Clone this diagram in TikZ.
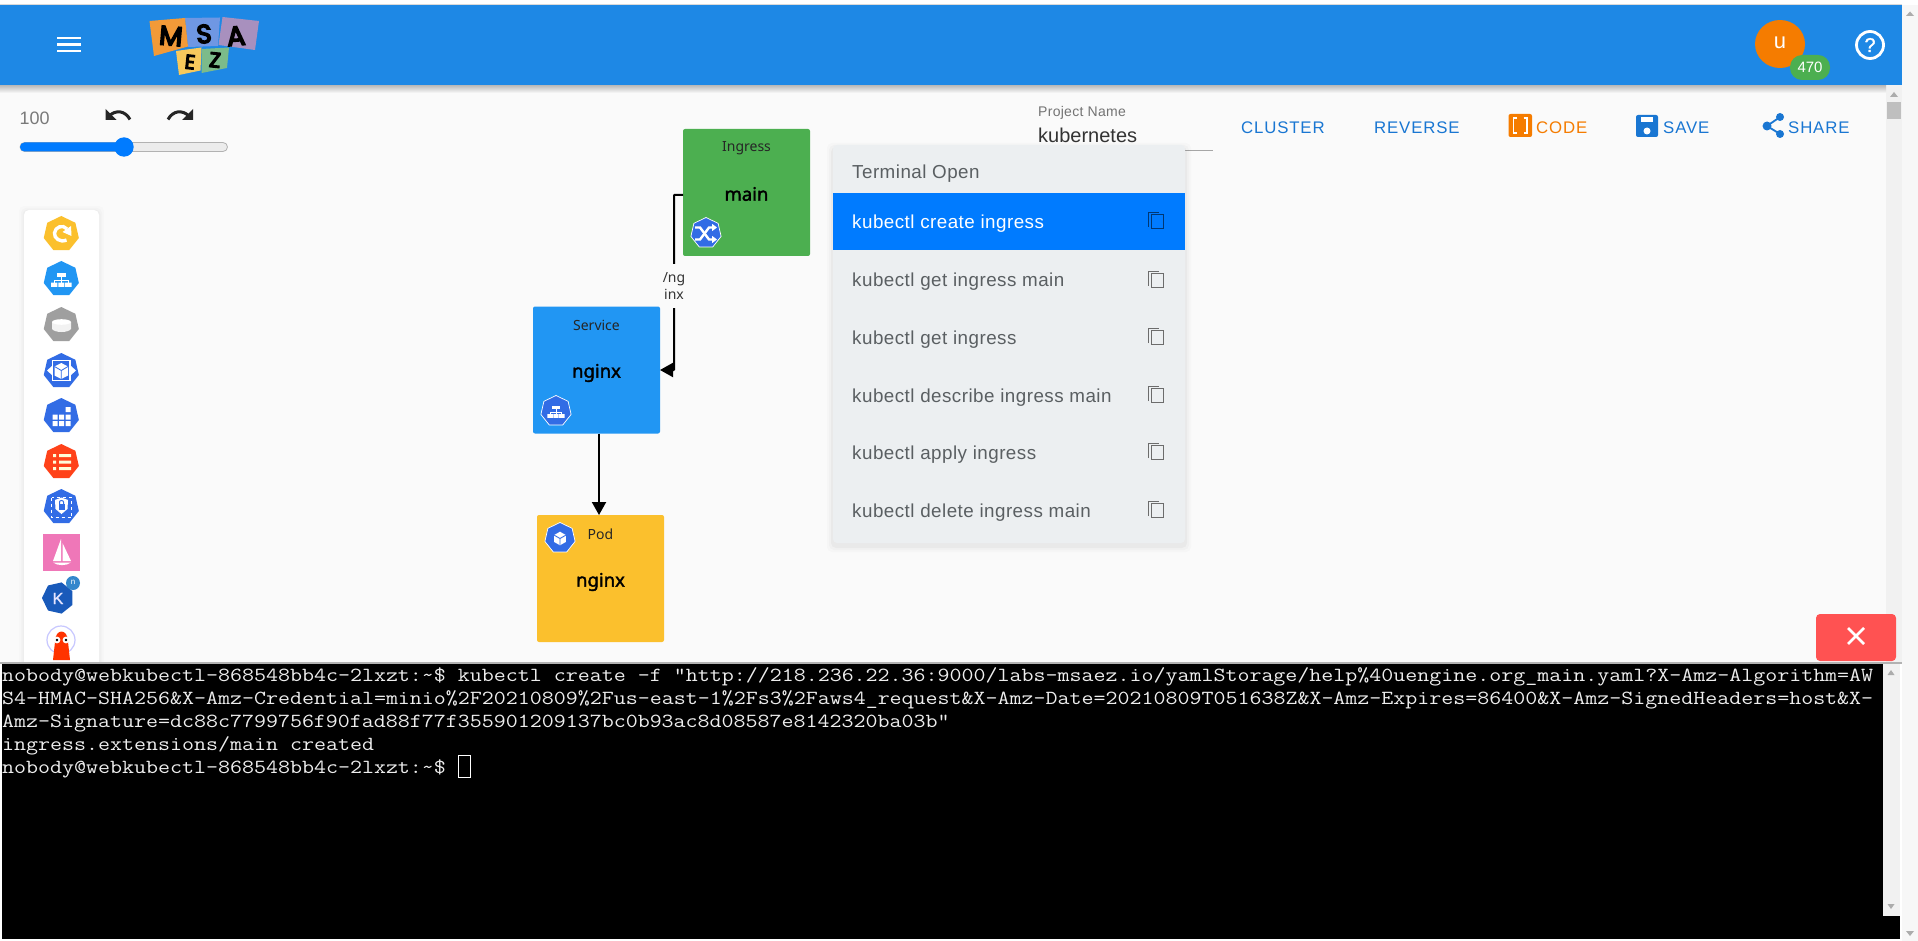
\documentclass[tikz,border=0pt]{standalone}
\usepackage{fontspec}
\setmainfont{Liberation Sans}
\newfontfamily\boxfont{Noto Sans}
\newfontfamily\boxbold[FakeBold=1.8]{Noto Sans}
\newfontfamily\termfont[FakeStretch=1.1645]{Latin Modern Mono}
\newfontfamily\btnfont[LetterSpace=5]{Liberation Sans}
\newfontfamily\menufont[LetterSpace=2.5]{Liberation Sans}
\newfontfamily\sansbold[FakeBold=1.5]{Liberation Sans}
\newfontfamily\logofont[FakeBold=6]{Poppins}
\usetikzlibrary{shapes.geometric,arrows.meta}
\definecolor{hdr}{HTML}{1E88E5}
\definecolor{canvasbg}{HTML}{FAFAFA}
\definecolor{sbar}{HTML}{F1F1F1}
\definecolor{primary}{HTML}{007BFF}
\definecolor{menubg}{HTML}{ECEFF1}
\definecolor{menutxt}{HTML}{5A5F62}
\definecolor{btnblue}{HTML}{1976D2}
\definecolor{btnorange}{HTML}{F57C00}
\definecolor{k8s}{HTML}{326CE5}
\definecolor{gyellow}{HTML}{FBC02D}
\definecolor{gblue}{HTML}{2196F3}
\definecolor{ggreen}{HTML}{4CAF50}
\definecolor{gred}{HTML}{FF5252}
\definecolor{sail}{HTML}{EF77B8}
\definecolor{logoM}{HTML}{F29A38}
\definecolor{logoS}{HTML}{6F97E3}
\definecolor{logoA}{HTML}{A890BE}
\definecolor{logoE}{HTML}{F7C95C}
\definecolor{logoZ}{HTML}{7CBB8A}
\tikzset{
  x=1pt,y=-1pt,
  hept/.style={regular polygon,regular polygon sides=7,inner sep=0pt,outer sep=0pt},
  kbox/.style={minimum width=127pt,minimum height=127pt,rounded corners=2pt,inner sep=0pt,outer sep=0pt},
  kindlabel/.style={font=\boxfont\fontsize{14}{16}\selectfont,inner sep=0pt,text=black!85},
  namelabel/.style={font=\boxbold\fontsize{18.5}{22}\selectfont,inner sep=0pt,text=black},
  edge/.style={draw=black,line width=2pt,-{Triangle[width=14pt,length=13pt]}},
  termline/.style={anchor=base west,inner sep=0pt,text=white!93!black,font=\termfont\fontsize{20}{23}\selectfont},
  menuitem/.style={anchor=base west,inner sep=0pt,text=menutxt,font=\menufont\fontsize{18.8}{22}\selectfont},
  topbtn/.style={anchor=base west,inner sep=0pt,font=\btnfont\fontsize{16.8}{20}\selectfont},
}
\newcommand\copyicon[2]{%
  \draw[#2,line width=1pt] (1148.7,#1+6) -- (1148.7,#1-8.5) -- (1158.5,#1-8.5);
  \draw[#2,line width=1pt] (1151.5,#1-6.5) rectangle (1163.5,#1+7.5);}
\newcommand\svcglyph{%
  \fill[white] (-5,-8) rectangle (5,-3.5);
  \draw[white,line width=1pt] (0,-3.5) -- (0,0) (-8,3) -- (-8,0) -- (8,0) -- (8,3) (0,0) -- (0,3);
  \fill[white] (-12,3) rectangle (-4.5,8) (-3.5,3) rectangle (3.5,8) (4.5,3) rectangle (12,8);}
\newcommand\cubeglyph{%
  \fill[white] (0,-8) -- (7,-4) -- (7,4) -- (0,8) -- (-7,4) -- (-7,-4) -- cycle;
  \draw[k8s,line width=.9pt] (-7,-4) -- (0,0) -- (7,-4) (0,0) -- (0,8);}
\begin{document}
\begin{tikzpicture}
\useasboundingbox (0,0) rectangle (1918,941);
% page and canvas
\fill[white] (0,0) rectangle (1918,941);
\fill[canvasbg] (0,85) rectangle (1886,662);
\fill[sbar] (1886,85) rectangle (1902,662);
\fill[sbar!60!white] (1902,5) rectangle (1918,941);
\fill[gray!30] (0,4) rectangle (1902,5);
% header
\shade[top color=black!28,bottom color=canvasbg] (0,85) rectangle (1886,93);
\fill[hdr] (0,5) rectangle (1902,85);
\draw[white,line width=2.4pt] (57,38) -- (81,38) (57,44.5) -- (81,44.5) (57,51) -- (81,51);
% logo
\fill[logoS] (185,18) -- (220,17.5) -- (218,46) -- (188,47) -- cycle;
\fill[logoM] (149.5,21) -- (185,18) -- (188,46.5) -- (154,56) -- cycle;
\fill[logoA] (222.5,17) -- (259,21) -- (255,50) -- (218.5,45) -- cycle;
\fill[logoE] (176,51) -- (201.5,47.5) -- (200.5,70.5) -- (179,75) -- cycle;
\fill[logoZ] (201.5,49) -- (229,47.5) -- (227,68) -- (201.5,73) -- cycle;
\node[inner sep=0pt,rotate=-5,font=\logofont\fontsize{27}{24}\selectfont] (letterM) at (171,36) {M};
\node[inner sep=0pt,rotate=3,font=\logofont\fontsize{26}{24}\selectfont] (letterS) at (204,34) {S};
\node[inner sep=0pt,rotate=5,font=\logofont\fontsize{27}{24}\selectfont] (letterA) at (236,36) {A};
\node[inner sep=0pt,rotate=-6,font=\logofont\fontsize{20}{20}\selectfont] (letterE) at (190,62) {E};
\node[inner sep=0pt,rotate=-6,font=\logofont\fontsize{21}{20}\selectfont] (letterZ) at (215,60) {Z};
% avatar
\fill[btnorange] (1780,44) ellipse [x radius=25pt,y radius=24pt];
\node[inner sep=0pt,text=white,font=\fontsize{22}{24}\selectfont] (avatar) at (1780,42.5) {u};
\fill[ggreen,rounded corners=12pt] (1790,55) rectangle (1830,80);
\node[inner sep=0pt,text=white,font=\fontsize{15}{16}\selectfont] (points) at (1810,67) {470};
\draw[white,line width=2.8pt] (1870,45) circle [radius=13.5pt];
\node[inner sep=0pt,text=white,font=\sansbold\fontsize{20}{20}\selectfont] (help) at (1870,45) {?};
\fill[gray!65] (1906,16) -- (1914,16) -- (1910,11.5) -- cycle;
% canvas scrollbar
\fill[gray!65] (1890,97) -- (1898,97) -- (1894,92) -- cycle;
\fill[gray!50] (1887,102) rectangle (1901,119);
% zoom controls
\node[anchor=base west,inner sep=0pt,text=gray!95!black,font=\fontsize{18}{20}\selectfont] (zoomval) at (19.5,125) {100};
\fill[black!85] (105.5,109) -- (105.5,120) -- (116.5,120) -- cycle;
\draw[black!85,line width=3pt] (130,119.5) .. controls (125,110.5) and (116,109.5) .. (109,116);
\fill[black!85] (193,109) -- (193,120) -- (182,120) -- cycle;
\draw[black!85,line width=3pt] (168,119.5) .. controls (173,110.5) and (182,109.5) .. (189,116);
\draw[gray!60,fill=gray!15,line width=.8pt,rounded corners=4.5pt] (20,142.5) rectangle (227.5,151.5);
\fill[primary,rounded corners=4.5pt] (20,142.5) rectangle (128,151.5);
\fill[primary] (124,147) circle [radius=9.7pt];
% palette panel
\foreach \o/\a in {5/.012,3/.016,1.5/.02}{\fill[black,opacity=\a,rounded corners=5pt] (24-\o,210-\o+1) rectangle (99+\o,670);}
\fill[white,rounded corners=5pt] (24,210) rectangle (99,670);
\node[hept,fill=gyellow,minimum size=36pt] (palRefresh) at (61.3,234) {};
\draw[white,line width=3.4pt] (66.5,240) .. controls (60,243) and (54,238) .. (54.5,233) .. controls (55,227) and (63,224) .. (67,229);
\fill[white] (71,226) -- (71.5,236) -- (62.5,232) -- cycle;
\node[hept,fill=gblue,minimum size=36pt] (palService) at (61.3,279) {};
\begin{scope}[shift={(61.3,280)},scale=.85]\svcglyph\end{scope}
\node[hept,fill=gray!75,minimum size=36pt] (palVolume) at (61.3,325) {};
\fill[white!90!gray] (52,322) -- (52,329) .. controls (55,333) and (68,333) .. (71,329) -- (71,322) -- cycle;
\fill[white] (61.5,322) ellipse [x radius=9.5pt,y radius=2.8pt];
\node[hept,fill=k8s,minimum size=36pt] (palDeploy) at (61.3,371) {};
\draw[white,line width=1.6pt] (52.5,360.5) rectangle (70,380.5);
\fill[white] (61.3,363) -- (68,366.5) -- (68,375.5) -- (61.3,379) -- (54.5,375.5) -- (54.5,366.5) -- cycle;
\draw[k8s,line width=.8pt] (54.5,366.5) -- (61.3,370.5) -- (68,366.5) (61.3,370.5) -- (61.3,379);
\fill[white] (47,370.5) -- (52,366) -- (52,375) -- cycle (76,370.5) -- (71,366) -- (71,375) -- cycle;
\node[hept,fill=k8s,minimum size=36pt] (palGrid) at (61.3,416) {};
\fill[white] (65.5,407) rectangle (70.5,412) (52.5,414.5) rectangle (57.5,419.5) (59,414.5) rectangle (64,419.5) (65.5,414.5) rectangle (70.5,419.5) (52.5,421) rectangle (57.5,426) (59,421) rectangle (64,426) (65.5,421) rectangle (70.5,426);
\node[hept,fill=red!65!orange!90!white,minimum size=36pt] (palConfig) at (61.3,462) {};
\fill[white!85!yellow] (53,454) rectangle (56,457) (59,454) rectangle (71,457) (53,460.5) rectangle (56,463.5) (59,460.5) rectangle (71,463.5) (53,467) rectangle (56,470) (59,467) rectangle (71,470);
\node[hept,fill=k8s,minimum size=36pt] (palSecret) at (61.3,507) {};
\draw[white,line width=1pt,dashed] (51.5,497.5) rectangle (71.5,517.5);
\fill[white] (61.5,497.5) -- (68,500) -- (67.5,509) -- (61.5,514) -- (55.5,509) -- (55,500) -- cycle;
\fill[k8s] (58.5,504) rectangle (64.5,510);
\draw[k8s,line width=1pt] (59.5,504) -- (59.5,502) .. controls (59.5,500) and (63.5,500) .. (63.5,502) -- (63.5,504);
\fill[sail] (43,534) rectangle (80,571);
\fill[white] (61,539) -- (61,561) -- (53,561) -- cycle;
\fill[white] (62.5,543) -- (71,561) -- (62.5,561) -- cycle;
\fill[white] (53,562.5) -- (71,562.5) .. controls (66,566) and (58,566) .. (53,562.5) -- cycle;
\node[hept,fill=blue!60!cyan!70!black!90,minimum size=32pt,rotate=90] (palKnative) at (58,598) {};
\node[inner sep=0pt,text=white!90!blue,font=\sansbold\fontsize{16}{18}\selectfont] (palK) at (58,598.5) {K};
\fill[blue!45!cyan!60!gray] (73,583) circle [radius=7pt];
\node[inner sep=0pt,text=white,font=\fontsize{8}{9}\selectfont] (palN) at (73,582.5) {n};
\draw[blue!22,line width=1.2pt] (61,640) circle [radius=14pt];
\fill[red!60!orange] (55,642) .. controls (55,628) and (68,628) .. (68,642) -- (70,660) -- (53,660) -- cycle;
\fill[white] (57,640) circle [radius=3.4pt] (66,640) circle [radius=3.4pt];
\fill[black] (57,640) circle [radius=1.4pt] (66,640) circle [radius=1.4pt];
% graph
\node[kbox,fill=ggreen] (ingress) at (746.5,192.5) {};
\node[kbox,fill=gblue] (service) at (596.5,370) {};
\node[kbox,fill=gyellow] (pod) at (600.5,578.5) {};
\node[kindlabel] (ingressKind) at (746.5,148) {Ingress};
\node[namelabel] (ingressName) at (746.5,194) {main};
\node[kindlabel] (serviceKind) at (596.5,325) {Service};
\node[namelabel] (serviceName) at (596.5,373) {nginx};
\node[kindlabel] (podKind) at (600.5,534) {Pod};
\node[namelabel] (podName) at (600.5,582) {nginx};
\node[hept,fill=k8s,draw=white,line width=.7pt,minimum size=31pt] (ingressIcon) at (706,233) {};
\begin{scope}[shift={(706,233.5)}]
\draw[white,line width=2.4pt,-{Triangle[width=7pt,length=5pt]}] (-11,-6) -- (-6,-6) -- (3,6) -- (11,6);
\draw[white,line width=2.4pt,-{Triangle[width=7pt,length=5pt]}] (-11,6) -- (-6,6) -- (3,-6) -- (11,-6);
\end{scope}
\node[hept,fill=k8s,draw=white,line width=.7pt,minimum size=31pt] (serviceIcon) at (556,411) {};
\begin{scope}[shift={(556,412)},scale=.72]\svcglyph\end{scope}
\node[hept,fill=k8s,draw=white,line width=.7pt,minimum size=31pt] (podIcon) at (560,538) {};
\begin{scope}[shift={(560,538.5)},scale=.85]\cubeglyph\end{scope}
\draw[edge,rounded corners=.5pt] ([yshift=-2.5pt]ingress.west) -| (674,370) -- (service.east);
\node[fill=canvasbg,inner sep=0pt,minimum width=26pt,minimum height=44pt,align=center,text=black!80,font=\boxfont\fontsize{14}{17}\selectfont] (edgeLabel) at (674,286) {/ng\\inx};
\draw[edge] ([xshift=2.5pt]service.south) -- ([xshift=-1.5pt]pod.north);
% project name
\node[anchor=base west,inner sep=0pt,text=gray!90!black,font=\btnfont\fontsize{14}{16}\selectfont] (projLabel) at (1038,116.5) {\addfontfeature{LetterSpace=2}Project Name};
\node[anchor=base west,inner sep=0pt,text=black!80,font=\fontsize{20}{22}\selectfont] (projName) at (1038,142.5) {kubernetes};
\draw[gray!70,line width=.8pt] (1038,150) -- (1213,150);
% toolbar
\node[topbtn,text=btnblue] (btnCluster) at (1241,133.5) {CLUSTER};
\node[topbtn,text=btnblue] (btnReverse) at (1374,133.5) {REVERSE};
\fill[btnorange,rounded corners=2pt] (1508.5,114) rectangle (1532,137);
\draw[white,line width=1.8pt] (1517,118) -- (1513.5,118) -- (1513.5,133) -- (1517,133) (1523.5,118) -- (1527,118) -- (1527,133) -- (1523.5,133);
\node[topbtn,text=btnorange] (btnCode) at (1536,133.5) {CODE};
\fill[btnblue,rounded corners=2pt] (1636,115) rectangle (1658,137);
\fill[white] (1640.5,117.5) rectangle (1652.5,122.5);
\fill[white] (1647,131) circle [radius=3.5pt];
\node[topbtn,text=btnblue] (btnSave) at (1663,133.5) {SAVE};
\draw[btnblue,line width=1.8pt] (1780,117) -- (1767,126) -- (1780,134);
\fill[btnblue] (1780,117) circle [radius=4pt] (1767,126) circle [radius=4.5pt] (1780,134) circle [radius=4pt];
\node[topbtn,text=btnblue] (btnShare) at (1788,133.5) {SHARE};
% menu
\foreach \o/\a in {6/.015,4/.02,2/.03}{\fill[black,opacity=\a,rounded corners=5pt] (833-\o,145-\o+4) rectangle (1185+\o,543+\o+3);}
\fill[menubg,rounded corners=4pt] (833,145) rectangle (1185,543);
\fill[primary] (833,193) rectangle (1185,250);
\node[menuitem] (menuHead) at (852,179) {Terminal Open};
\node[menuitem,text=white] (menuA) at (852,229) {kubectl create ingress};
\node[menuitem] (menuB) at (852,287) {kubectl get ingress main};
\node[menuitem] (menuC) at (852,344) {kubectl get ingress};
\node[menuitem] (menuD) at (852,402) {kubectl describe ingress main};
\node[menuitem] (menuE) at (852,459) {kubectl apply ingress};
\node[menuitem] (menuF) at (852,517) {kubectl delete ingress main};
\copyicon{221}{black!55!primary}
\copyicon{279.5}{gray!85!black}
\copyicon{337}{gray!85!black}
\copyicon{395}{gray!85!black}
\copyicon{452}{gray!85!black}
\copyicon{510}{gray!85!black}
% terminal
\fill[sbar] (1883,663) rectangle (1900,916);
\fill[gray!60] (0,662) rectangle (1902,663.5);
\fill[black] (2,663.5) rectangle (1883,939);
\fill[black] (1883,916) rectangle (1900,939);
\fill[gray!65] (1887.5,675) -- (1894.5,675) -- (1891,670) -- cycle;
\fill[gray!65] (1887.5,904) -- (1894.5,904) -- (1891,909) -- cycle;
\fill[gray!65] (1906,931) -- (1914,931) -- (1910,936) -- cycle;
\node[termline] (termA) at (2,681) {nobody@webkubectl-868548bb4c-2lxzt:\textasciitilde\$ kubectl create -f "http://218.236.22.36:9000/labs-msaez.io/yamlStorage/help\%40uengine.org\_main.yaml?X-Amz-Algorithm=AW};
\node[termline] (termB) at (2,704) {S4-HMAC-SHA256\&X-Amz-Credential=minio\%2F20210809\%2Fus-east-1\%2Fs3\%2Faws4\_request\&X-Amz-Date=20210809T051638Z\&X-Amz-Expires=86400\&X-Amz-SignedHeaders=host\&X-};
\node[termline] (termC) at (2,727) {Amz-Signature=dc88c7799756f90fad88f77f355901209137bc0b93ac8d08587e8142320ba03b"};
\node[termline] (termD) at (2,750) {ingress.extensions/main created};
\node[termline] (termE) at (2,773) {nobody@webkubectl-868548bb4c-2lxzt:\textasciitilde\$};
\draw[white,line width=1pt] (458.5,755) rectangle (470,777);
% close button
\fill[gred,rounded corners=4pt] (1816,614) rectangle (1896,661);
\draw[white,line width=2.6pt] (1848,628) -- (1864,644) (1864,628) -- (1848,644);
\end{tikzpicture}
\end{document}
